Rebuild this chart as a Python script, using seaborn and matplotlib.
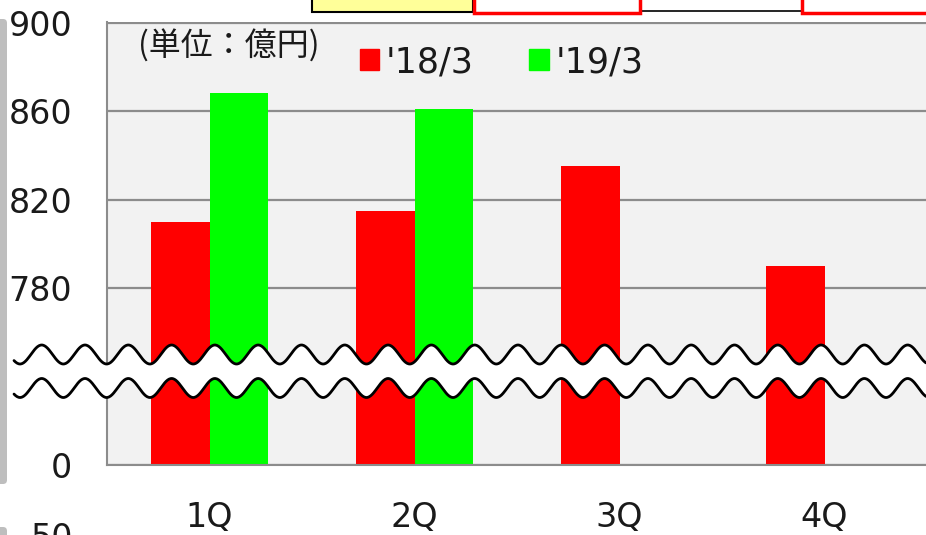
import numpy as np
import pandas as pd
import matplotlib.pyplot as plt
from matplotlib.patches import Patch, Rectangle, FancyBboxPatch
import seaborn as sns

# data
quarters = ['1Q', '2Q', '3Q', '4Q']
series = ["'18/3", "'19/3"]
fy18 = [810, 815, 835, 790]
fy19 = [868, 861, np.nan, np.nan]
colors = ['#FF0000', '#00FF00']
ytick_vals = [700, 740, 780, 820, 860, 900]
ytick_labels = ['0', '', '780', '820', '860', '900']

df = pd.DataFrame({
    'quarter': quarters * 2,
    'series': [series[0]] * 4 + [series[1]] * 4,
    'value': fy18 + fy19,
})

sns.set_style('white')
plt.rcParams['font.family'] = ['DejaVu Sans', 'Noto Sans CJK JP']

W, H = 926, 535
fig = plt.figure(figsize=(W / 100, H / 100), dpi=100)
ax = fig.add_axes([107 / W, 1 - 465 / H, 820 / W, 443 / H])

sns.barplot(data=df, x='quarter', y='value', hue='series', hue_order=series,
            palette=colors, width=0.566, saturation=1, linewidth=0,
            errorbar=None, legend=False, ax=ax)

ax.set_ylim(700, 900.3)
ax.set_xlim(-0.5, 3.5)
ax.set_facecolor('#F2F2F2')
ax.yaxis.grid(True, color='#8C8C8C', lw=1.6)
ax.set_axisbelow(True)
for s in ['top', 'right']:
    ax.spines[s].set_visible(False)
for s in ['left', 'bottom']:
    ax.spines[s].set_color('#8C8C8C')
    ax.spines[s].set_linewidth(1.5)

ax.set_yticks(ytick_vals, ytick_labels)
ax.tick_params(axis='y', length=9, width=1.5, color='#8C8C8C', pad=16,
               labelsize=24, labelcolor='#1a1a1a')
ax.set_xticks(range(4), quarters)
ax.set_xticks([-0.5, 0.5, 1.5, 2.5, 3.5], minor=True)
ax.tick_params(axis='x', which='major', length=0, pad=26, labelsize=24,
               labelcolor='#1a1a1a')
ax.tick_params(axis='x', which='minor', length=9, width=1.5, color='#8C8C8C')
ax.set_xlabel('')
ax.set_ylabel('')

# unit label + legend
ax.text((229 - 107) / 820, (465 - 46) / 443, '(単位：億円)', transform=ax.transAxes,
        ha='center', va='center', fontsize=23, color='#1a1a1a',
        family=['Noto Sans CJK JP'])
handles = [Patch(color=c, label=s) for c, s in zip(colors, series)]
ax.legend(handles=handles, ncol=2, frameon=False, loc='center left',
          bbox_to_anchor=((360 - 107) / 820, (465 - 62) / 443),
          fontsize=25, handlelength=0.55, handleheight=0.55,
          handletextpad=0.2, columnspacing=1.6, borderpad=0, borderaxespad=0,
          labelcolor='#1a1a1a')

# overlay in pixel coords: axis break, cropped neighbours
ov = fig.add_axes([0, 0, 1, 1], zorder=5)
ov.set_xlim(0, W)
ov.set_ylim(H, 0)
ov.axis('off')

x = np.linspace(14, W, 1200)
ph = 2 * np.pi * (x - 41.7) / 43.3
y_top = 354.5 - 9.5 * np.cos(ph)
y_bot = 388 - 9.5 * np.cos(ph)
ov.fill_between(x, y_top, y_bot, color='white', lw=0)
ov.plot(x, y_top, color='black', lw=2)
ov.plot(x, y_bot, color='black', lw=2)

ov.add_patch(FancyBboxPatch((-6, 19), 13, 465, boxstyle='round,pad=0,rounding_size=4',
                            color='#BEBEBE', lw=0))
ov.add_patch(FancyBboxPatch((-6, 527), 13, 40, boxstyle='round,pad=0,rounding_size=4',
                            color='#BEBEBE', lw=0))
ov.text(52, 522, '50', ha='center', va='top', fontsize=24, color='#1a1a1a')

ov.add_patch(Rectangle((312, -10), 161, 21.5, facecolor='#FFFF99',
                       edgecolor='black', lw=1.5))
ov.add_patch(Rectangle((640, -10), 162, 21, facecolor='white',
                       edgecolor='black', lw=1.2))
ov.add_patch(Rectangle((474, -10), 166, 22.5, facecolor='none',
                       edgecolor='#FF0000', lw=2.5))
ov.add_patch(Rectangle((802, -10), 200, 22.5, facecolor='none',
                       edgecolor='#FF0000', lw=2.5))

fig.savefig('out.png', dpi=100)
